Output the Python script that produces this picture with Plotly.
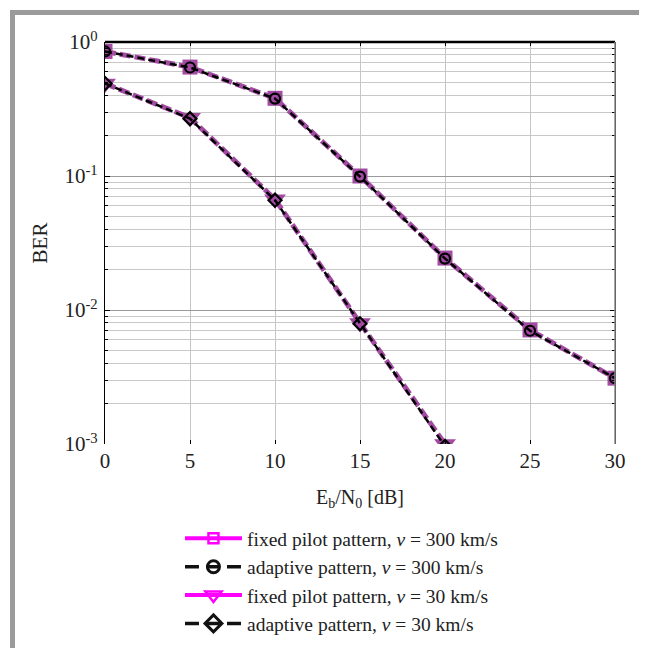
import plotly.graph_objects as go

ebn0 = [0, 5, 10, 15, 20, 25, 30]
fixed_300 = [0.85, 0.65, 0.38, 0.100, 0.0244, 0.0071, 0.0031]
adaptive_300 = [0.85, 0.645, 0.378, 0.099, 0.0242, 0.0070, 0.0031]
ebn0_30 = [0, 5, 10, 15, 20]
fixed_30 = [0.49, 0.272, 0.067, 0.0080, 0.00100]
adaptive_30 = [0.49, 0.268, 0.066, 0.0079, 0.00096]

legend_names = [
    "fixed pilot pattern, <i>v</i> = 300 km/s",
    "adaptive pattern, <i>v</i> = 300 km/s",
    "fixed pilot pattern, <i>v</i> = 30 km/s",
    "adaptive pattern, <i>v</i> = 30 km/s",
]
y_tickvals = [1e-3, 1e-2, 1e-1, 1]
y_ticktext = ["10<sup>-3</sup>", "10<sup>-2</sup>", "10<sup>-1</sup>", "10<sup>0</sup>"]
y_minorvals = [m * d for d in (1e-3, 1e-2, 1e-1) for m in range(2, 10)]
x_tickvals = [0, 5, 10, 15, 20, 25, 30]

PURPLE = "#A34AA3"
MAGENTA = "#FF00FF"
FONT = "Liberation Serif"

fig = go.Figure()

# plotted series (no legend)
fig.add_trace(go.Scatter(x=ebn0, y=fixed_300, mode="lines+markers", showlegend=False,
                         line=dict(color=PURPLE, width=5, dash="11px,4px"),
                         marker=dict(symbol="square", size=15, color=PURPLE)))
fig.add_trace(go.Scatter(x=ebn0, y=adaptive_300, mode="lines+markers", showlegend=False,
                         line=dict(color="black", width=2.5, dash="7px,4px"),
                         marker=dict(symbol="circle-open", size=10, color="black",
                                     line=dict(width=2.2, color="black"))))
fig.add_trace(go.Scatter(x=ebn0_30, y=fixed_30, mode="lines+markers", showlegend=False,
                         line=dict(color=PURPLE, width=5, dash="11px,4px"),
                         marker=dict(symbol="triangle-down", size=19, color=PURPLE)))
fig.add_trace(go.Scatter(x=ebn0_30, y=adaptive_30, mode="lines+markers", showlegend=False,
                         line=dict(color="black", width=2.5, dash="7px,4px"),
                         marker=dict(symbol="diamond-open", size=10, color="black",
                                     line=dict(width=2.2, color="black"))))

# legend entries
fig.add_trace(go.Scatter(x=[None], y=[None], mode="lines+markers", name=legend_names[0],
                         line=dict(color=MAGENTA, width=4),
                         marker=dict(symbol="square-open", size=10, color=MAGENTA,
                                     line=dict(width=2.5, color=MAGENTA))))
fig.add_trace(go.Scatter(x=[None], y=[None], mode="lines+markers", name=legend_names[1],
                         line=dict(color="#111111", width=3.5, dash="14px,7px"),
                         marker=dict(symbol="circle-open", size=12, color="#111111",
                                     line=dict(width=3, color="#111111"))))
fig.add_trace(go.Scatter(x=[None], y=[None], mode="lines+markers", name=legend_names[2],
                         line=dict(color=MAGENTA, width=4),
                         marker=dict(symbol="triangle-down-open", size=14, color=MAGENTA,
                                     line=dict(width=2.5, color=MAGENTA))))
fig.add_trace(go.Scatter(x=[None], y=[None], mode="lines+markers", name=legend_names[3],
                         line=dict(color="#111111", width=3.5, dash="14px,7px"),
                         marker=dict(symbol="diamond-open", size=13, color="#111111",
                                     line=dict(width=3, color="#111111"))))

fig.update_layout(
    width=639, height=640,
    margin=dict(l=97, r=32, t=34, b=204, autoexpand=False),
    paper_bgcolor="white", plot_bgcolor="white",
    font=dict(family=FONT, size=20, color="#222222"),
    legend=dict(x=0.147, y=-0.187, xanchor="left", yanchor="top",
                font=dict(family=FONT, size=19.5, color="#222222"),
                itemwidth=57, bgcolor="rgba(0,0,0,0)", borderwidth=0),
    xaxis=dict(range=[0, 30], tickvals=x_tickvals, ticks="inside", ticklen=4,
               tickcolor="black", mirror="ticks", showline=False, zeroline=False,
               showgrid=True, gridcolor="#c6c6c6", gridwidth=1, ticklabelstandoff=2,
               tickfont=dict(family=FONT, size=21, color="#222222"),
               title=dict(text="E<sub>b</sub>/N<sub>0</sub> [dB]", standoff=17,
                          font=dict(family=FONT, size=20, color="#222222"))),
    yaxis=dict(type="log", range=[-3, 0], tickvals=y_tickvals, ticktext=y_ticktext,
               ticks="inside", ticklen=5, tickcolor="black", mirror="ticks",
               showline=True, linecolor="black", linewidth=1.2, zeroline=False,
               showgrid=True, gridcolor="#9a9a9a", gridwidth=1.3, ticklabelstandoff=2,
               minor=dict(tickvals=y_minorvals, ticks="inside", ticklen=3,
                          tickcolor="black", showgrid=True,
                          gridcolor="#c8c8c8", gridwidth=1),
               tickfont=dict(family=FONT, size=21, color="#222222"),
               title=dict(text="BER", standoff=11,
                          font=dict(family=FONT, size=21, color="#222222"))),
    shapes=[
        dict(type="rect", xref="paper", yref="paper", x0=-0.1814, x1=1.0578,
             y0=-0.62, y1=1.0734, line=dict(color="#9b9b9b", width=5), layer="above"),
        dict(type="line", xref="paper", yref="paper", x0=0, x1=1, y0=1, y1=1,
             line=dict(color="black", width=2.5), layer="above"),
        dict(type="line", xref="paper", yref="paper", x0=1, x1=1, y0=0, y1=1,
             line=dict(color="#8a8a8a", width=1.5), layer="above"),
    ],
)

fig.write_html("out.html")
